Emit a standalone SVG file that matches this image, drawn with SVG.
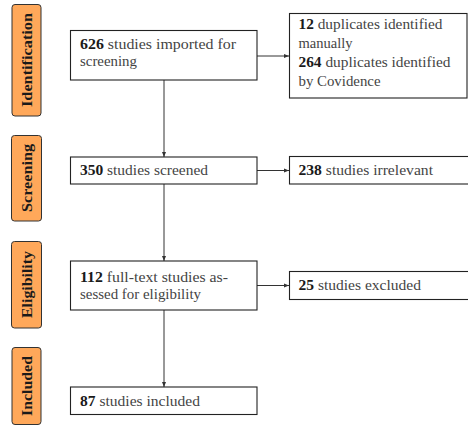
<svg xmlns="http://www.w3.org/2000/svg" width="468" height="426" viewBox="0 0 468 426">
<defs>
<style>
.stage{fill:#FFA85A;stroke:#333;stroke-width:1}
.box{fill:#fff;stroke:#222;stroke-width:1.1}
.t{font-family:"Liberation Serif","Times New Roman",serif;font-size:14.5px;fill:#444}
.b{font-weight:bold;fill:#1a1a1a}
.sl{font-family:"Liberation Serif","Times New Roman",serif;font-size:15px;font-weight:bold;fill:#1a1a1a}
.c{stroke:#333;stroke-width:1;fill:none;marker-end:url(#ah)}
</style>
<marker id="ah" markerWidth="6" markerHeight="6" refX="5" refY="3" orient="auto" markerUnits="userSpaceOnUse">
<path d="M0,1 L5,3 L0,5 Z" fill="#333"/>
</marker>
</defs>
<rect width="468" height="426" fill="#fff"/>
<g id="stage-identification">
<rect class="stage" x="12" y="4.5" width="29" height="111.5" rx="3"/>
<text class="sl" transform="translate(31.5,107) rotate(-90)" textLength="94" lengthAdjust="spacingAndGlyphs">Identification</text>
</g>
<g id="stage-screening">
<rect class="stage" x="11.5" y="135.5" width="30" height="85.5" rx="3"/>
<text class="sl" transform="translate(31.5,212) rotate(-90)" textLength="68" lengthAdjust="spacingAndGlyphs">Screening</text>
</g>
<g id="stage-eligibility">
<rect class="stage" x="11.5" y="241.5" width="30" height="86.5" rx="3"/>
<text class="sl" transform="translate(31.5,318) rotate(-90)" textLength="67" lengthAdjust="spacingAndGlyphs">Eligibility</text>
</g>
<g id="stage-included">
<rect class="stage" x="12" y="347.5" width="29" height="77" rx="3"/>
<text class="sl" transform="translate(31.5,416) rotate(-90)" textLength="60" lengthAdjust="spacingAndGlyphs">Included</text>
</g>
<g id="connectors">
<path class="c" d="M164,80 V157"/>
<path class="c" d="M164,184 V261"/>
<path class="c" d="M164,310 V387"/>
<path class="c" d="M257,56 H289"/>
<path class="c" d="M257,170.5 H289"/>
<path class="c" d="M257,285.5 H289"/>
</g>
<g id="n-imported">
<rect class="box" x="70.5" y="30.5" width="186.5" height="49.5"/>
<text class="t" x="80" y="49" textLength="156" lengthAdjust="spacingAndGlyphs"><tspan class="b">626</tspan> studies imported for</text>
<text class="t" x="80" y="66" textLength="57" lengthAdjust="spacingAndGlyphs">screening</text>
</g>
<g id="n-duplicates">
<rect class="box" x="289.5" y="13.5" width="177.5" height="84.5"/>
<text class="t" x="298.5" y="29" textLength="144" lengthAdjust="spacingAndGlyphs"><tspan class="b">12</tspan> duplicates identified</text>
<text class="t" x="298.5" y="48" textLength="54" lengthAdjust="spacingAndGlyphs">manually</text>
<text class="t" x="298.5" y="67" textLength="152" lengthAdjust="spacingAndGlyphs"><tspan class="b">264</tspan> duplicates identified</text>
<text class="t" x="298.5" y="86" textLength="82" lengthAdjust="spacingAndGlyphs">by Covidence</text>
</g>
<g id="n-screened">
<rect class="box" x="70.5" y="157" width="186.5" height="27"/>
<text class="t" x="80" y="175" textLength="128" lengthAdjust="spacingAndGlyphs"><tspan class="b">350</tspan> studies screened</text>
</g>
<g id="n-irrelevant">
<rect class="box" x="289.5" y="156.5" width="182" height="27.5"/>
<text class="t" x="298.5" y="175" textLength="134.5" lengthAdjust="spacingAndGlyphs"><tspan class="b">238</tspan> studies irrelevant</text>
</g>
<g id="n-fulltext">
<rect class="box" x="70.5" y="261" width="186.5" height="49"/>
<text class="t" x="80" y="282" textLength="148" lengthAdjust="spacingAndGlyphs"><tspan class="b">112</tspan> full-text studies as-</text>
<text class="t" x="80" y="299" textLength="121" lengthAdjust="spacingAndGlyphs">sessed for eligibility</text>
</g>
<g id="n-excluded">
<rect class="box" x="289.5" y="271.5" width="182" height="28"/>
<text class="t" x="298.5" y="290" textLength="122.5" lengthAdjust="spacingAndGlyphs"><tspan class="b">25</tspan> studies excluded</text>
</g>
<g id="n-included">
<rect class="box" x="70.5" y="387" width="186.5" height="27.5"/>
<text class="t" x="80" y="406" textLength="120" lengthAdjust="spacingAndGlyphs"><tspan class="b">87</tspan> studies included</text>
</g>
</svg>
